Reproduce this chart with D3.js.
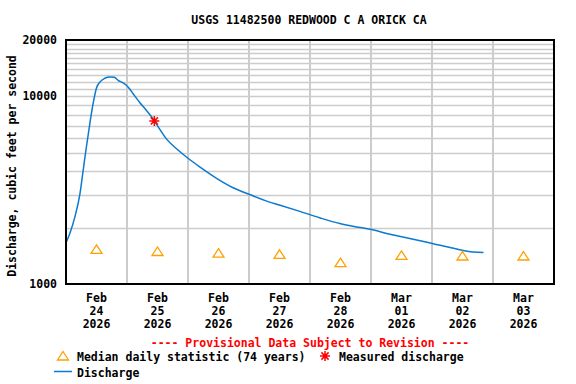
<!DOCTYPE html>
<html>
<head>
<meta charset="utf-8">
<script src="https://cdn.jsdelivr.net/npm/d3@7"></script>
<style>
  body { margin: 0; background: #fff; }
  svg text { font-family: "DejaVu Sans Mono", monospace; font-weight: bold; }
</style>
</head>
<body>
<svg id="chart" width="576" height="384"></svg>
<script>
// Discharge readings (local time, cfs)
const flowTimes = [
  "2026-02-24 00:00", "2026-02-24 01:30", "2026-02-24 03:30", "2026-02-24 05:30",
  "2026-02-24 06:45", "2026-02-24 08:00", "2026-02-24 09:30", "2026-02-24 10:45",
  "2026-02-24 12:00", "2026-02-24 13:30", "2026-02-24 15:15", "2026-02-24 17:15",
  "2026-02-24 19:00", "2026-02-24 20:30", "2026-02-24 22:30", "2026-02-25 00:30",
  "2026-02-25 02:30", "2026-02-25 05:00", "2026-02-25 07:45", "2026-02-25 10:15",
  "2026-02-25 13:00", "2026-02-25 15:30", "2026-02-25 19:30", "2026-02-25 23:30",
  "2026-02-26 04:45", "2026-02-26 11:15", "2026-02-26 17:45", "2026-02-27 00:30",
  "2026-02-27 07:30", "2026-02-27 12:15", "2026-02-27 20:00", "2026-02-28 04:00",
  "2026-02-28 11:45", "2026-02-28 19:45", "2026-03-01 00:15", "2026-03-01 07:30",
  "2026-03-01 15:15", "2026-03-02 00:30", "2026-03-02 08:30", "2026-03-02 16:15",
  "2026-03-02 20:15"
];
const flowValues = [
  1660, 1860, 2280, 3030,
  4030, 5360, 7350, 9290,
  11100, 12000, 12500, 12700,
  12650, 12200, 11800, 11200,
  10300, 9290, 8390, 7590,
  6650, 5940, 5260, 4740,
  4200, 3660, 3260, 2990,
  2750, 2630, 2440, 2250,
  2100, 2000, 1950, 1840,
  1750, 1640, 1550, 1480,
  1470
];

// Median daily statistic (74 years), plotted at noon
const medianDays = ["2026-02-24", "2026-02-25", "2026-02-26", "2026-02-27",
                    "2026-02-28", "2026-03-01", "2026-03-02", "2026-03-03"];
const medianValues = [1530, 1490, 1460, 1440, 1300, 1420, 1410, 1410];

// Field measurement
const measuredTime = "2026-02-25 10:45";
const measuredValue = 7400;

const dayLabels = [["Feb", "24"], ["Feb", "25"], ["Feb", "26"], ["Feb", "27"],
                   ["Feb", "28"], ["Mar", "01"], ["Mar", "02"], ["Mar", "03"]];
const yearLabel = "2026";
const yLabelValues = [1000, 10000, 20000];

const parseT = d3.timeParse("%Y-%m-%d %H:%M");
const parseD = d3.timeParse("%Y-%m-%d");

const svg = d3.select("#chart");
const plotL = 66, plotR = 554, plotT = 40, plotB = 284;

const x = d3.scaleTime()
  .domain([parseD("2026-02-24"), parseD("2026-03-04")])
  .range([plotL, plotR]);
const y = d3.scaleLog().domain([1000, 20000]).range([plotB, plotT]);

// --- grid ---
const grid = svg.append("g").attr("stroke", "#cccccc");
const minorVals = d3.range(2000, 20000, 1000);
grid.selectAll("line.h").data(minorVals).join("line")
  .attr("class", "h")
  .attr("x1", plotL).attr("x2", plotR)
  .attr("y1", d => Math.round(y(d)) + 0.5).attr("y2", d => Math.round(y(d)) + 0.5)
  .attr("stroke-width", 1.5);
const dayTicks = d3.timeDay.range(parseD("2026-02-25"), parseD("2026-03-04"));
grid.selectAll("line.v").data(dayTicks).join("line")
  .attr("class", "v")
  .attr("x1", d => x(d)).attr("x2", d => x(d))
  .attr("y1", plotT).attr("y2", plotB)
  .attr("stroke-width", 2);

// --- discharge line ---
const flow = flowTimes.map((t, i) => ({ t: parseT(t), v: flowValues[i] }));
svg.append("path")
  .datum(flow)
  .attr("fill", "none")
  .attr("stroke", "#0a7ad0")
  .attr("stroke-width", 1.5)
  .attr("d", d3.line().x(d => x(d.t)).y(d => y(d.v)).curve(d3.curveMonotoneX));

// --- markers ---
const triPath = "M0,-4.5L5.5,4L-5.5,4Z";
const starPath = "M-5,0H5M0,-5V5M-3.6,-3.6L3.6,3.6M-3.6,3.6L3.6,-3.6";

svg.append("g").selectAll("path")
  .data(medianDays.map((d, i) => ({ t: d3.timeHour.offset(parseD(d), 12), v: medianValues[i] })))
  .join("path")
  .attr("transform", d => `translate(${x(d.t)},${y(d.v)})`)
  .attr("d", triPath)
  .attr("fill", "none")
  .attr("stroke", "#ffa000")
  .attr("stroke-width", 1.3);

svg.append("path")
  .attr("transform", `translate(${x(parseT(measuredTime))},${y(measuredValue)})`)
  .attr("d", starPath)
  .attr("stroke", "#ff0000")
  .attr("stroke-width", 1.5);

// --- frame ---
svg.append("rect")
  .attr("x", plotL).attr("y", plotT)
  .attr("width", plotR - plotL).attr("height", plotB - plotT)
  .attr("fill", "none").attr("stroke", "#000").attr("stroke-width", 2);

// --- y labels ---
svg.append("g").selectAll("text").data(yLabelValues).join("text")
  .attr("x", 57).attr("y", d => y(d) + 4)
  .attr("text-anchor", "end")
  .attr("font-size", "11.5px")
  .text(d => d);

svg.append("text")
  .attr("transform", "translate(16,166) rotate(-90)")
  .attr("text-anchor", "middle")
  .attr("font-size", "11.5px")
  .text("Discharge, cubic feet per second");

// --- x labels ---
const xl = svg.append("g").selectAll("g")
  .data(dayLabels).join("g")
  .attr("transform", (d, i) => `translate(${x(d3.timeHour.offset(parseD(medianDays[i]), 12))},0)`)
  .attr("text-anchor", "middle")
  .attr("font-size", "11.5px");
xl.append("text").attr("y", 302).text(d => d[0]);
xl.append("text").attr("y", 315).text(d => d[1]);
xl.append("text").attr("y", 328).text(yearLabel);

// --- title ---
svg.append("text")
  .attr("x", 309).attr("y", 24)
  .attr("text-anchor", "middle")
  .attr("font-size", "11.5px")
  .text("USGS 11482500 REDWOOD C A ORICK CA");

svg.append("text")
  .attr("x", 310).attr("y", 347)
  .attr("text-anchor", "middle")
  .attr("font-size", "11.5px")
  .attr("fill", "#ff0000")
  .text("---- Provisional Data Subject to Revision ----");

// --- legend ---
const legend = svg.append("g").attr("font-size", "11.5px");
legend.append("path").attr("transform", "translate(63,356)").attr("d", triPath)
  .attr("fill", "none").attr("stroke", "#ffa000").attr("stroke-width", 1.3);
legend.append("text").attr("x", 77).attr("y", 361).text("Median daily statistic (74 years)");
legend.append("path").attr("transform", "translate(325,356)").attr("d", starPath)
  .attr("stroke", "#ff0000").attr("stroke-width", 1.5);
legend.append("text").attr("x", 339).attr("y", 361).text("Measured discharge");
legend.append("line").attr("x1", 54).attr("x2", 72).attr("y1", 371.5).attr("y2", 371.5)
  .attr("stroke", "#0a7ad0").attr("stroke-width", 1.5);
legend.append("text").attr("x", 77).attr("y", 377).text("Discharge");
</script>
</body>
</html>
